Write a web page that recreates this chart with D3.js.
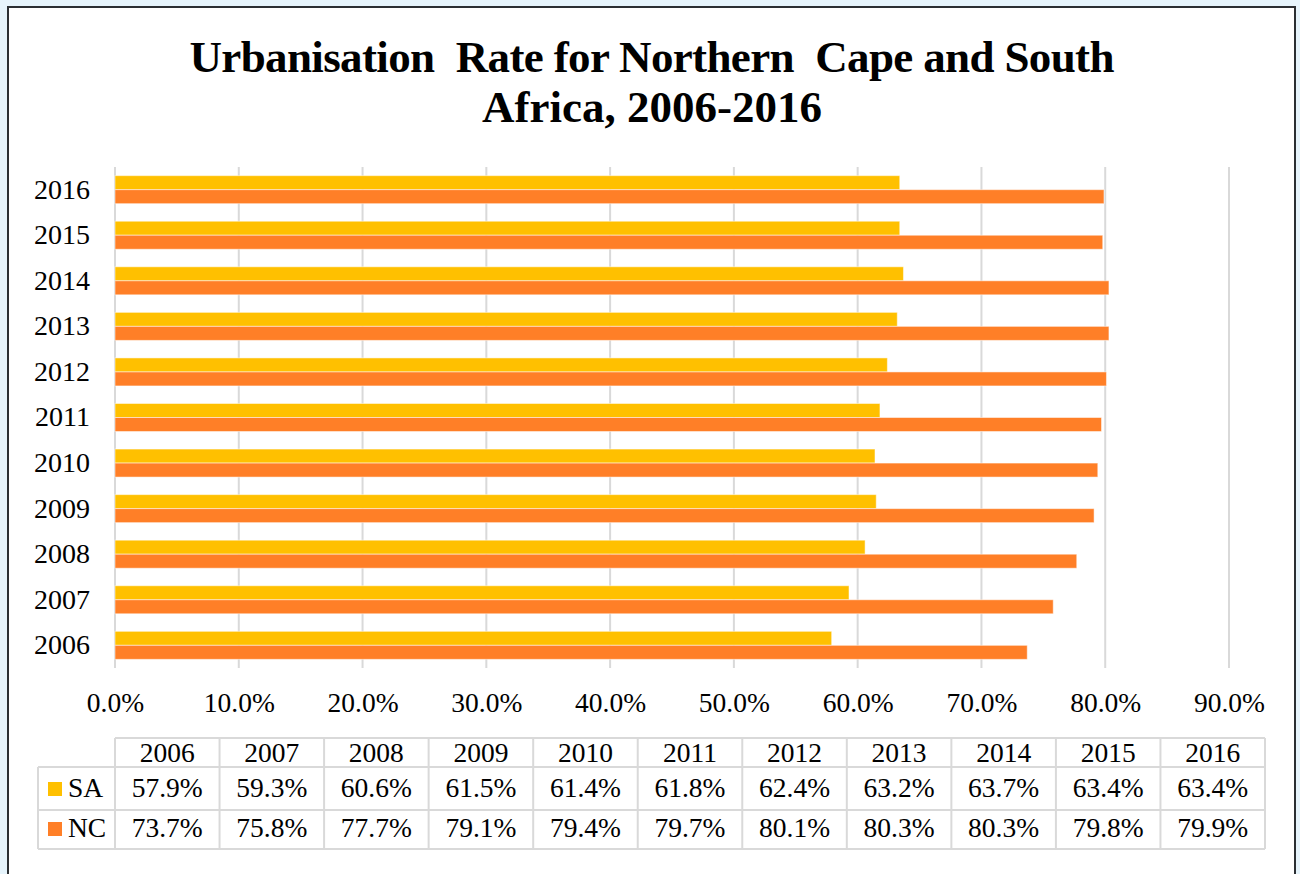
<!DOCTYPE html>
<html>
<head>
<meta charset="utf-8">
<script src="https://cdn.jsdelivr.net/npm/d3@7"></script>
<style>
  body { margin: 0; background: #e6f4fc; }
  svg { display: block; }
  text { font-family: "Liberation Serif", "Times New Roman", serif; fill: #000; }
</style>
</head>
<body>
<div id="container"></div>
<script>
const years = ['2006', '2007', '2008', '2009', '2010', '2011', '2012', '2013', '2014', '2015', '2016'];
const saValues = [57.9, 59.3, 60.6, 61.5, 61.4, 61.8, 62.4, 63.2, 63.7, 63.4, 63.4];
const ncValues = [73.7, 75.8, 77.7, 79.1, 79.4, 79.7, 80.1, 80.3, 80.3, 79.8, 79.9];
const xTicks = [0, 10, 20, 30, 40, 50, 60, 70, 80, 90];
const seriesNames = ['SA', 'NC'];
const titleLines = ['Urbanisation  Rate for Northern  Cape and South', 'Africa, 2006-2016'];

const colors = { SA: '#ffc000', NC: '#ff7f27' };
const W = 1300, H = 874;

const svg = d3.select('#container')
  .append('svg')
  .attr('width', W)
  .attr('height', H);

// Chart frame
svg.append('rect')
  .attr('x', 8).attr('y', 7)
  .attr('width', 1287).attr('height', 900)
  .attr('fill', '#fff')
  .attr('stroke', '#2b2f33')
  .attr('stroke-width', 2);

// Title
svg.append('text')
  .attr('x', 652)
  .attr('text-anchor', 'middle')
  .style('font-weight', 'bold')
  .style('font-size', '45px')
  .style('white-space', 'pre')
  .selectAll('tspan')
  .data(titleLines)
  .enter()
  .append('tspan')
  .attr('x', 652)
  .attr('y', (d, i) => 72 + i * 50)
  .attr('textLength', (d, i) => i === 0 ? 925 : null)
  .attr('lengthAdjust', 'spacing')
  .text(d => d);

// Scales
const x = d3.scaleLinear().domain([0, 90]).range([115, 1229]);
const y = d3.scaleBand()
  .domain(years.slice().reverse())
  .range([167, 668])
  .paddingInner(0.385)
  .paddingOuter(0.19);
const ySub = d3.scaleBand().domain(seriesNames).range([0, y.bandwidth()]);

// Gridlines
svg.append('g')
  .selectAll('line')
  .data(xTicks)
  .enter()
  .append('line')
  .attr('x1', d => x(d)).attr('x2', d => x(d))
  .attr('y1', 167).attr('y2', 668)
  .attr('stroke', '#d9d9d9')
  .attr('stroke-width', 2);

// Bars
const rows = years.map((yr, i) => ({ year: yr, SA: saValues[i], NC: ncValues[i] }));
const groups = svg.append('g')
  .selectAll('g')
  .data(rows)
  .enter()
  .append('g')
  .attr('transform', d => `translate(0, ${y(d.year)})`);

groups.selectAll('rect')
  .data(d => seriesNames.map(s => ({ key: s, value: d[s] })))
  .enter()
  .append('rect')
  .attr('x', x(0))
  .attr('y', d => ySub(d.key))
  .attr('width', d => x(d.value) - x(0))
  .attr('height', ySub.bandwidth())
  .attr('fill', d => colors[d.key])
  .attr('stroke', 'rgba(255,255,255,0.5)')
  .attr('stroke-width', 1);

// Y axis labels
const yAxis = d3.axisLeft(y).tickSize(0).tickPadding(25);
svg.append('g')
  .attr('transform', `translate(${x(0)}, 0)`)
  .call(yAxis)
  .call(g => g.select('.domain').remove())
  .call(g => g.selectAll('text')
    .style('font-family', '"Liberation Serif", "Times New Roman", serif')
    .style('font-size', '28px')
    .attr('fill', '#000'));

// X axis labels
const xAxis = d3.axisBottom(x)
  .tickValues(xTicks)
  .tickSize(0)
  .tickPadding(0)
  .tickFormat(d => d.toFixed(1) + '%');
svg.append('g')
  .attr('transform', 'translate(0, 692)')
  .call(xAxis)
  .call(g => g.select('.domain').remove())
  .call(g => g.selectAll('text')
    .style('font-family', '"Liberation Serif", "Times New Roman", serif')
    .style('font-size', '27.5px')
    .attr('fill', '#000'));

// Data table
const col = d3.scaleBand().domain(years).range([115, 1265]);
const table = svg.append('g');
const lineColor = '#d9d9d9';

// horizontal lines
[[115, 738], [38, 767], [38, 810], [38, 849]].forEach(([x0, yy]) => {
  table.append('line')
    .attr('x1', x0).attr('x2', 1265)
    .attr('y1', yy).attr('y2', yy)
    .attr('stroke', lineColor).attr('stroke-width', 2);
});
// vertical lines
table.append('line')
  .attr('x1', 38).attr('x2', 38).attr('y1', 767).attr('y2', 849)
  .attr('stroke', lineColor).attr('stroke-width', 2);
table.selectAll('.vline')
  .data(years.concat(['end']))
  .enter()
  .append('line')
  .attr('class', 'vline')
  .attr('x1', d => d === 'end' ? 1265 : col(d))
  .attr('x2', d => d === 'end' ? 1265 : col(d))
  .attr('y1', 738).attr('y2', 849)
  .attr('stroke', lineColor).attr('stroke-width', 2);

// header
table.selectAll('.head')
  .data(years)
  .enter()
  .append('text')
  .attr('class', 'head')
  .attr('x', d => col(d) + col.bandwidth() / 2)
  .attr('y', 762)
  .attr('text-anchor', 'middle')
  .style('font-size', '27.5px')
  .text(d => d);

const tableRows = [
  { key: 'SA', values: saValues, base: 797 },
  { key: 'NC', values: ncValues, base: 837 }
];
tableRows.forEach(r => {
  table.append('rect')
    .attr('x', 48).attr('y', r.base - 15)
    .attr('width', 14).attr('height', 14)
    .attr('fill', colors[r.key]);
  table.append('text')
    .attr('x', 68).attr('y', r.base)
    .style('font-size', '27.5px')
    .text(r.key);
  table.selectAll('.v' + r.key)
    .data(r.values)
    .enter()
    .append('text')
    .attr('x', (d, i) => col(years[i]) + col.bandwidth() / 2)
    .attr('y', r.base)
    .attr('text-anchor', 'middle')
    .style('font-size', '27.5px')
    .text(d => d.toFixed(1) + '%');
});
</script>
</body>
</html>
